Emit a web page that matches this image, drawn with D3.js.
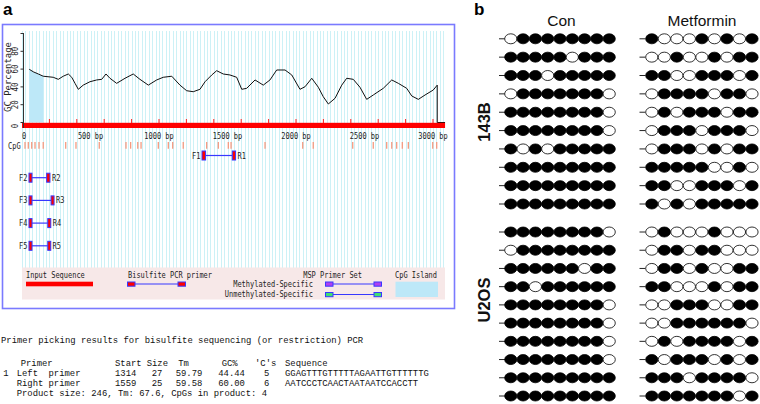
<!DOCTYPE html>
<html><head><meta charset="utf-8">
<script src="https://cdn.jsdelivr.net/npm/d3@7"></script>
<style>body{margin:0;background:#fff} svg{display:block}</style>
</head><body><svg id="c" width="760" height="404"></svg>
<script>
// ---------------- DATA ----------------
const seqLength = 3088;
const gcPos = [53,82,119,155,228,265,301,338,363,387,411,447,496,545,582,613,642,691,752,812,861,922,983,1031,1093,1153,1202,1250,1299,1336,1385,1421,1469,1518,1567,1604,1640,1701,1761,1810,1859,1920,1969,2029,2066,2115,2163,2199,2236,2285,2334,2370,2418,2467,2516,2564,2637,2699,2747,2808,2845,2893,2942,3002,3031,3031,3088];
const gcVal = [59.8,57,54.5,52,50.8,48.5,52,54.5,50.8,44,37.3,42,45.8,47.8,48.5,54.5,49.7,44,49.7,54.5,48.5,42,47.8,50.8,52,42,35.7,34.6,37.3,45.8,53.4,58.2,54.5,53.4,50.8,37.3,38.4,47.8,42,47.8,59,59,53.4,37.3,40.2,49.7,39.6,29,20.8,27.2,42,49.7,48.5,39.6,26,30.9,38.4,47.8,44,38.4,29.8,26,30.9,36.5,42,0,0];
const islandRange = [51,160];
const cpgSites = [22,46,71,95,124,155,319,394,564,759,793,845,869,995,1068,1100,1177,1348,1433,1506,1526,1774,2049,2126,2414,2564,2662,2699,2735,2776,2820,2998,3027];
const xTicks = [0,500,1000,1500,2000,2500,3000];
const xTickLabels = ["0","500 bp","1000 bp","1500 bp","2000 bp","2500 bp","3000 bp"];
const yTicks = [0,20,40,60,80,100];
const yTickLabels = ["0","20","40","60","80",""];
const barTicks = [200,400,600,800,1000,1200,1400,1600,1800,2000,2200,2400,2600,2800,3000];
const primerNames = ["1","2","3","4","5"];
const primerF = [[1314,1340],[51,73],[51,73],[51,73],[51,73]];
const primerR = [[1535,1559],[180,204],[212,234],[188,210],[188,208]];

const tableTitle = "Primer picking results for bisulfite sequencing (or restriction) PCR";
const tableHeader = ["Primer","Start","Size","Tm","GC%","'C's","Sequence"];
const tableRows = [
  ["1","Left","primer","1314","27","59.79","44.44","5","GGAGTTTGTTTTTAGAATTGTTTTTTG"],
  ["","Right","primer","1559","25","59.58","60.00","6","AATCCCTCAACTAATAATCCACCTT"]
];
const productLine = "Product size: 246, Tm: 67.6, CpGs in product: 4";

const conditions = ["Con","Metformin"];
const cellLines = ["143B","U2OS"];
const con143B = [
 [0,1,1,1,1,1,1,1,1],[1,1,1,1,1,0,1,1,1],[1,1,1,0,1,1,1,1,1],[0,1,1,1,1,1,1,1,0],[1,1,1,1,1,1,1,1,0],
 [1,1,1,1,1,1,1,1,0],[1,0,1,0,1,1,1,1,1],[1,1,1,1,1,1,1,1,1],[1,1,1,1,1,1,1,1,1],[1,1,1,1,1,1,1,1,1]];
const met143B = [
 [1,0,0,0,1,0,1,0,1],[0,0,1,0,0,1,0,1,1],[1,1,0,0,1,1,1,0,1],[0,1,1,1,1,0,1,1,0],[0,1,0,1,1,1,0,1,1],
 [0,1,1,1,0,1,1,1,0],[0,1,1,1,0,1,0,1,1],[1,1,1,1,1,0,0,1,0],[1,1,0,0,1,1,1,0,1],[1,0,1,0,1,1,1,1,1]];
const conU2OS = [
 [1,1,1,1,1,1,1,1,0],[0,1,1,1,1,1,1,1,1],[1,1,1,1,1,1,0,1,1],[1,1,0,1,1,1,1,1,1],[1,1,1,1,1,1,1,1,0],
 [1,1,1,1,1,1,1,1,0],[1,1,1,1,1,1,1,1,0],[1,1,1,1,1,1,1,1,0],[1,1,1,1,1,1,1,1,1],[1,1,1,1,1,1,1,1,1]];
const metU2OS = [
 [0,1,0,0,0,1,0,0,0],[0,1,1,0,1,1,0,0,0],[0,1,1,0,1,0,0,1,1],[1,1,0,0,0,1,0,1,1],[0,0,1,1,1,0,0,1,1],
 [0,0,1,1,1,1,1,1,0],[0,1,0,1,1,1,1,0,1],[1,0,1,1,1,0,1,0,1],[1,1,1,0,1,1,1,1,0],[1,1,1,1,1,1,1,0,1]];

// ---------------- DRAW ----------------
const svg = d3.select('#c');
svg.append('rect').attr('width',760).attr('height',404).attr('fill','#fff');
const MONO = "'DejaVu Sans Mono', monospace";
const SANS = "'Liberation Sans', Arial, sans-serif";
const CW = 4.2;
function small(g, str, xx, yy, anchor, size){
  return g.append('text').attr('x',xx).attr('y',yy).attr('font-family',MONO)
    .attr('font-size',size||8.5).attr('text-anchor',anchor||'start').attr('fill','#222')
    .attr('textLength', str.length*CW).attr('lengthAdjust','spacingAndGlyphs').text(str);
}

// Panel a
const A = svg.append('g');
A.append('text').attr('x',3).attr('y',15).attr('font-family',SANS).attr('font-size',17).attr('font-weight','bold').text('a');
A.append('rect').attr('x',2.5).attr('y',24.5).attr('width',452).attr('height',284)
  .attr('fill','none').attr('stroke','#7a7aff').attr('stroke-width',1.6);

const x = d3.scaleLinear().domain([0,3000]).range([22,433]);
const y = d3.scaleLinear().domain([0,100]).range([122.5,33.5]);

A.append('g').selectAll('line').data(d3.range(0, seqLength, 25)).join('line')
  .attr('x1',d=>Math.round(x(d))+0.5).attr('x2',d=>Math.round(x(d))+0.5)
  .attr('y1',31).attr('y2',268).attr('stroke','#cdf1f6').attr('stroke-width',1);

const gc = gcPos.map((p,i)=>({p, v:gcVal[i]}));
const isl = gc.filter(d=>d.p>=islandRange[0] && d.p<=islandRange[1]);
A.append('path').datum(isl)
  .attr('d', d3.area().x(d=>x(d.p)).y0(y(0)).y1(d=>y(d.v)))
  .attr('fill','#bde8f8');

A.append('path').datum(gc)
  .attr('d', d3.line().x(d=>x(d.p)).y(d=>y(d.v)))
  .attr('fill','none').attr('stroke','#111').attr('stroke-width',1);

A.append('rect').attr('x',x(0)).attr('y',122.8).attr('width',x(seqLength)-x(0)).attr('height',5.2).attr('fill','#ff0000');
A.append('g').selectAll('line').data(barTicks).join('line')
  .attr('x1',d=>x(d)).attr('x2',d=>x(d)).attr('y1',119).attr('y2',123).attr('stroke','#ff2020').attr('stroke-width',1);

A.append('line').attr('x1',23.5).attr('x2',23.5).attr('y1',33).attr('y2',128).attr('stroke','#333').attr('stroke-width',1);
A.append('g').selectAll('line').data(yTicks).join('line')
  .attr('x1',20.5).attr('x2',23.5).attr('y1',d=>y(d)).attr('y2',d=>y(d)).attr('stroke','#333');
yTicks.forEach((v,i)=>{
  if(!yTickLabels[i]) return;
  const yy = y(v) + (v===0?3.5:0);
  A.append('text').attr('transform',`translate(18,${yy}) rotate(-90)`).attr('text-anchor','middle')
   .attr('font-family',MONO).attr('font-size',8.5).attr('fill','#222')
   .attr('textLength',yTickLabels[i].length*4.5).attr('lengthAdjust','spacingAndGlyphs').text(yTickLabels[i]);
});
A.append('text').attr('transform','translate(11,77) rotate(-90)').attr('text-anchor','middle')
  .attr('font-family',MONO).attr('font-size',9).attr('fill','#222')
  .attr('textLength',70).attr('lengthAdjust','spacingAndGlyphs').text('GC Percentage');

xTicks.forEach((v,i)=> small(A, xTickLabels[i], x(v)+(v===0?2:0), 139, 'middle'));

small(A,'CpG',8,148.5,'start');
A.append('g').selectAll('line').data(cpgSites).join('line')
  .attr('x1',d=>x(d)).attr('x2',d=>x(d)).attr('y1',142).attr('y2',148.7)
  .attr('stroke','#f59a80').attr('stroke-width',1.3);

const primerY = [155.5,177.7,200.4,223.1,245.8];
primerNames.forEach((n,i)=>{
  const cy = primerY[i];
  const f = primerF[i], r = primerR[i];
  A.append('line').attr('x1',x(f[1])).attr('x2',x(r[0])).attr('y1',cy).attr('y2',cy)
    .attr('stroke','#3838ff').attr('stroke-width',1.2);
  [f,r].forEach(s=>{
    A.append('rect').attr('x',x(s[0])).attr('y',cy-4.5).attr('width',Math.max(3,x(s[1])-x(s[0]))).attr('height',9)
      .attr('fill','#f00').attr('stroke','#3838ff').attr('stroke-width',1);
  });
  small(A,'F'+n, x(f[0])-1.5, cy+3, 'end');
  small(A,'R'+n, x(r[1])+2, cy+3, 'start');
});

const L = A.append('g');
L.append('rect').attr('x',22).attr('y',267.5).attr('width',423).attr('height',32).attr('fill','#f7e8e8');
small(L,'Input Sequence',26,278);
L.append('rect').attr('x',26).attr('y',281.7).attr('width',67).attr('height',4.6).attr('fill','#f00');
small(L,'Bisulfite PCR primer',128,278);
function glyph(g,x0,x1,cy,fill){
  g.append('line').attr('x1',x0).attr('x2',x1).attr('y1',cy).attr('y2',cy).attr('stroke','#3838ff').attr('stroke-width',1.2);
  [x0-7.5,x1].forEach(xx=>g.append('rect').attr('x',xx).attr('y',cy-2).attr('width',7.5).attr('height',4.2)
     .attr('fill',fill).attr('stroke','#3838ff').attr('stroke-width',1));
}
glyph(L,135,178,284,'#f00');
small(L,'MSP Primer Set',362,278,'end');
small(L,'Methylated-Specific',313,286.5,'end');
small(L,'Unmethylated-Specific',313,297,'end');
glyph(L,333,374,284,'#b040f0');
glyph(L,333,374,294.5,'#40e070');
small(L,'CpG Island',395,278);
L.append('rect').attr('x',395.5).attr('y',281.7).attr('width',42.5).attr('height',15.3).attr('fill','#bde8f8');

// text block
const T = svg.append('g').attr('font-family',"'Liberation Mono', 'Courier New', monospace").attr('font-size',8.9).attr('fill','#111');
T.append('text').attr('x',1).attr('y',343).text(tableTitle);
const hdrX = [20.7,115,146.7,178.3,221.7,255,285];
tableHeader.forEach((h,i)=>T.append('text').attr('x',hdrX[i]).attr('y',366).text(h));
const colX = [3.3,16.7,48.5,115,151.7,175.7,218.3,264,285];
tableRows.forEach((row,r)=>{
  row.forEach((c,i)=>{
    if(!c) return;
    T.append('text').attr('x',colX[i]).attr('y',376.3+r*10).text(c);
  });
});
T.append('text').attr('x',16.7).attr('y',396).text(productLine);

// Panel b
const B = svg.append('g');
B.append('text').attr('x',474).attr('y',15).attr('font-family',SANS).attr('font-size',17).attr('font-weight','bold').text('b');
const colCenters = [561.5,702];
conditions.forEach((c,i)=>B.append('text').attr('x',colCenters[i]).attr('y',25.5).attr('text-anchor','middle')
  .attr('font-family',SANS).attr('font-size',15.5).attr('fill','#111').text(c));
const groupY = [[38.8,204],[232,396]];
const groupLabelY = [122,300];
cellLines.forEach((n,i)=>B.append('text').attr('transform',`translate(490,${groupLabelY[i]}) rotate(-90)`)
  .attr('text-anchor','middle').attr('font-family',SANS).attr('font-size',16.5).attr('font-weight','bold').attr('fill','#111').text(n));
const xs = [d3.scaleLinear().domain([0,8]).range([510.8,609.2]), d3.scaleLinear().domain([0,8]).range([651.8,752])];
const dashX = [[499,505],[639.5,645.5]];
const sets = [[con143B,met143B],[conU2OS,metU2OS]];
sets.forEach((pair,gi)=>{
  const ys = d3.scaleLinear().domain([0,9]).range(groupY[gi]);
  pair.forEach((mat,ci)=>{
    mat.forEach((row,ri)=>{
      const yy = ys(ri);
      B.append('line').attr('x1',dashX[ci][0]).attr('x2',dashX[ci][1]).attr('y1',yy).attr('y2',yy).attr('stroke','#222').attr('stroke-width',1);
      B.append('g').selectAll('ellipse').data(row).join('ellipse')
        .attr('cx',(d,k)=>xs[ci](k)).attr('cy',yy).attr('rx',6.1).attr('ry',5)
        .attr('fill',d=>d?'#000':'#fff').attr('stroke','#000').attr('stroke-width',0.8);
    });
  });
});
</script></body></html>
